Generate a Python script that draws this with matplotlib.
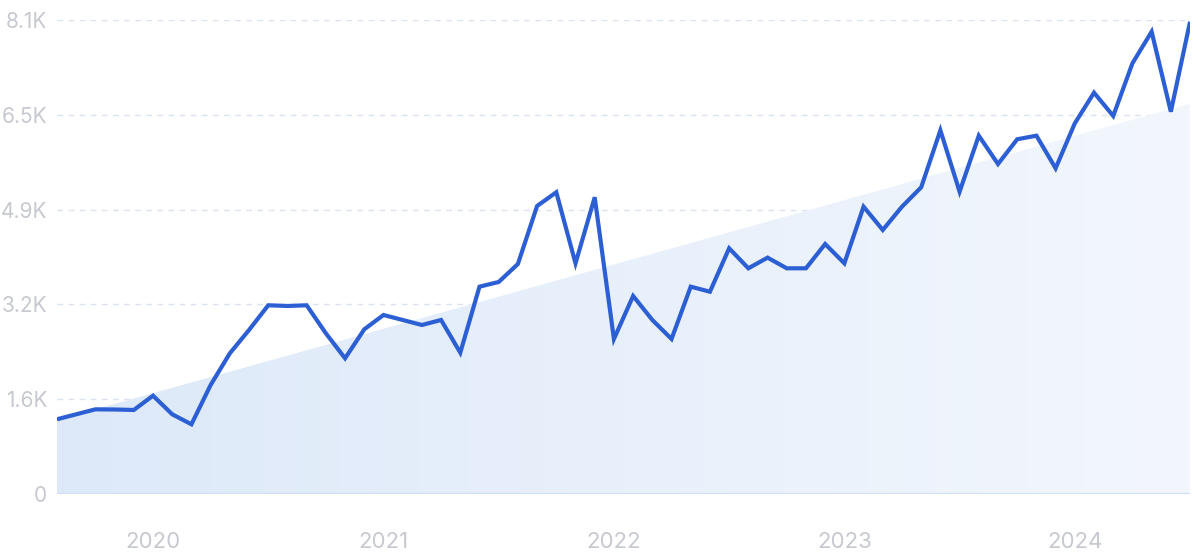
import numpy as np
import matplotlib
matplotlib.use("Agg")
import matplotlib.pyplot as plt
from matplotlib.colors import LinearSegmentedColormap

# monthly values, Aug 2019 .. Jul 2024
values = [
    1277, 1362, 1447, 1444, 1436, 1680, 1362, 1191, 1863, 2404,
    2803, 3225, 3213, 3225, 2746, 2319, 2814, 3059, 2974, 2888,
    2974, 2415, 3543, 3623, 3931, 4922, 5156, 3942, 5071, 2649,
    3384, 2974, 2649, 3543, 3457, 4199, 3857, 4039, 3857, 3857,
    4272, 3942, 4910, 4512, 4910, 5241, 6215, 5166, 6123, 5639,
    6062, 6123, 5566, 6335, 6858, 6460, 7360, 7900, 6533, 8070,
]
trend_ends = [1265, 6670]          # straight trend band under the line
year_labels = ["2020", "2021", "2022", "2023", "2024"]
year_index = [5, 17, 29, 41, 53]   # January of each year
y_ticks = [0, 1620, 3240, 4860, 6480, 8100]
y_tick_labels = ["0", "1.6K", "3.2K", "4.9K", "6.5K", "8.1K"]

LINE = "#2d5fd4"
TXT = "#c6c9d0"
GRID = "#d9e2f0"

plt.rcParams["font.family"] = ["Inter", "DejaVu Sans"]

fig = plt.figure(figsize=(12, 5.57), dpi=100)
ax = fig.add_axes([0.0475, 0.1131, 0.9442, 0.851])

x = np.arange(len(values))
x0, x1 = x[0], x[-1]

# trend area with a soft left-to-right gradient
poly = ax.fill_between([x0, x1], [0, 0], trend_ends, color="none", lw=0)
grad_cmap = LinearSegmentedColormap.from_list("g", ["#dde9f9", "#f3f7fd"])
grad = np.linspace(0, 1, 256).reshape(1, -1)
img = ax.imshow(grad, cmap=grad_cmap, aspect="auto",
                extent=[x0, x1, 0, max(trend_ends)], origin="lower", zorder=1)
img.set_clip_path(poly.get_paths()[0], transform=ax.transData)
ax.plot([x0, x1], [0, 0], color="#cfdff4", lw=1.6, zorder=2)

# dashed grid lines
for yt in y_ticks[1:]:
    ax.plot([x0, x1], [yt, yt], color=GRID, lw=1.0, ls=(0, (4, 4)), zorder=0)

ax.plot(x, values, color=LINE, lw=3.0, solid_joinstyle="miter",
        solid_capstyle="butt", zorder=3)

ax.set_xlim(x0, x1)
ax.set_ylim(0, 8100)
ax.set_yticks(y_ticks)
ax.set_yticklabels(y_tick_labels)
ax.set_xticks(year_index)
ax.set_xticklabels(year_labels)
ax.tick_params(axis="both", length=0, colors=TXT, labelsize=16)
ax.tick_params(axis="y", labelsize=15, pad=7)
ax.tick_params(axis="x", pad=27)
for s in ax.spines.values():
    s.set_visible(False)

fig.savefig("out.png", dpi=100, facecolor="white")
